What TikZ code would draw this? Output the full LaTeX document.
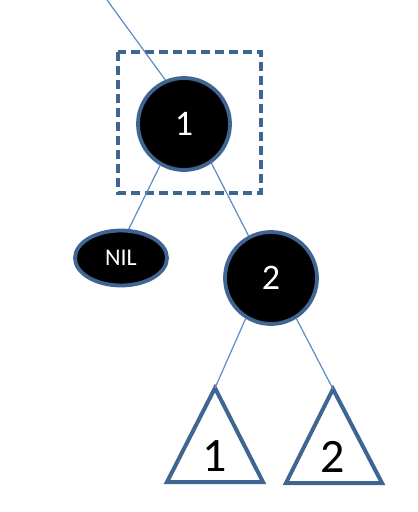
\documentclass[tikz,border=0pt]{standalone}
\usepackage{fontspec}
\setmainfont{Carlito}
\definecolor{bordeazul}{HTML}{3F6592}
\definecolor{lineaazul}{HTML}{5B8BC9}
\usetikzlibrary{shapes.geometric, positioning}

\begin{document}
\begin{tikzpicture}[
  x=1pt, y=-1pt,
  nodo/.style={
    circle, draw=bordeazul, fill=black, line width=3.8pt,
    text=white, font=\fontsize{36}{36}\selectfont,
    minimum size=92pt, inner sep=0pt
  },
  nil/.style={
    ellipse, draw=bordeazul, fill=black, line width=3.8pt,
    text=white, font=\fontsize{24}{24}\selectfont,
    minimum width=92pt, minimum height=55pt, inner sep=0pt
  },
  subarbol/.style={
    draw=bordeazul, fill=white, line width=4pt, line join=miter
  },
  arista/.style={lineaazul, line width=1.2pt}
]
  \useasboundingbox (0,0) rectangle (418,512);

  % marco punteado
  \draw[bordeazul, line width=4pt, dash pattern=on 9pt off 5pt]
    (118,52) rectangle (261,193);

  \coordinate (arriba) at (107,0);
  \node[nodo] (n1) at (184,124) {1};
  \node[nil] (nil) at (121,258) {NIL};
  \node[nodo] (n2) at (271,278) {2};

  % subarboles
  \coordinate (t1) at (215,388);
  \coordinate (t2) at (333,389);
  \draw[subarbol] (t1) -- (167,482) -- (263,482) -- cycle;
  \draw[subarbol] (t2) -- (286,483) -- (382,483) -- cycle;
  \node[font=\fontsize{48}{48}\selectfont] (s1) at (215,456) {1};
  \node[font=\fontsize{48}{48}\selectfont] (s2) at (333,457) {2};

  \draw[arista] (arriba) -- (n1.113);
  \draw[arista] (n1.240) -- (nil.75);
  \draw[arista] (n1.305) -- (n2.118);
  \draw[arista] (n2.238) -- (t1);
  \draw[arista] (n2.302) -- (t2);
\end{tikzpicture}
\end{document}
